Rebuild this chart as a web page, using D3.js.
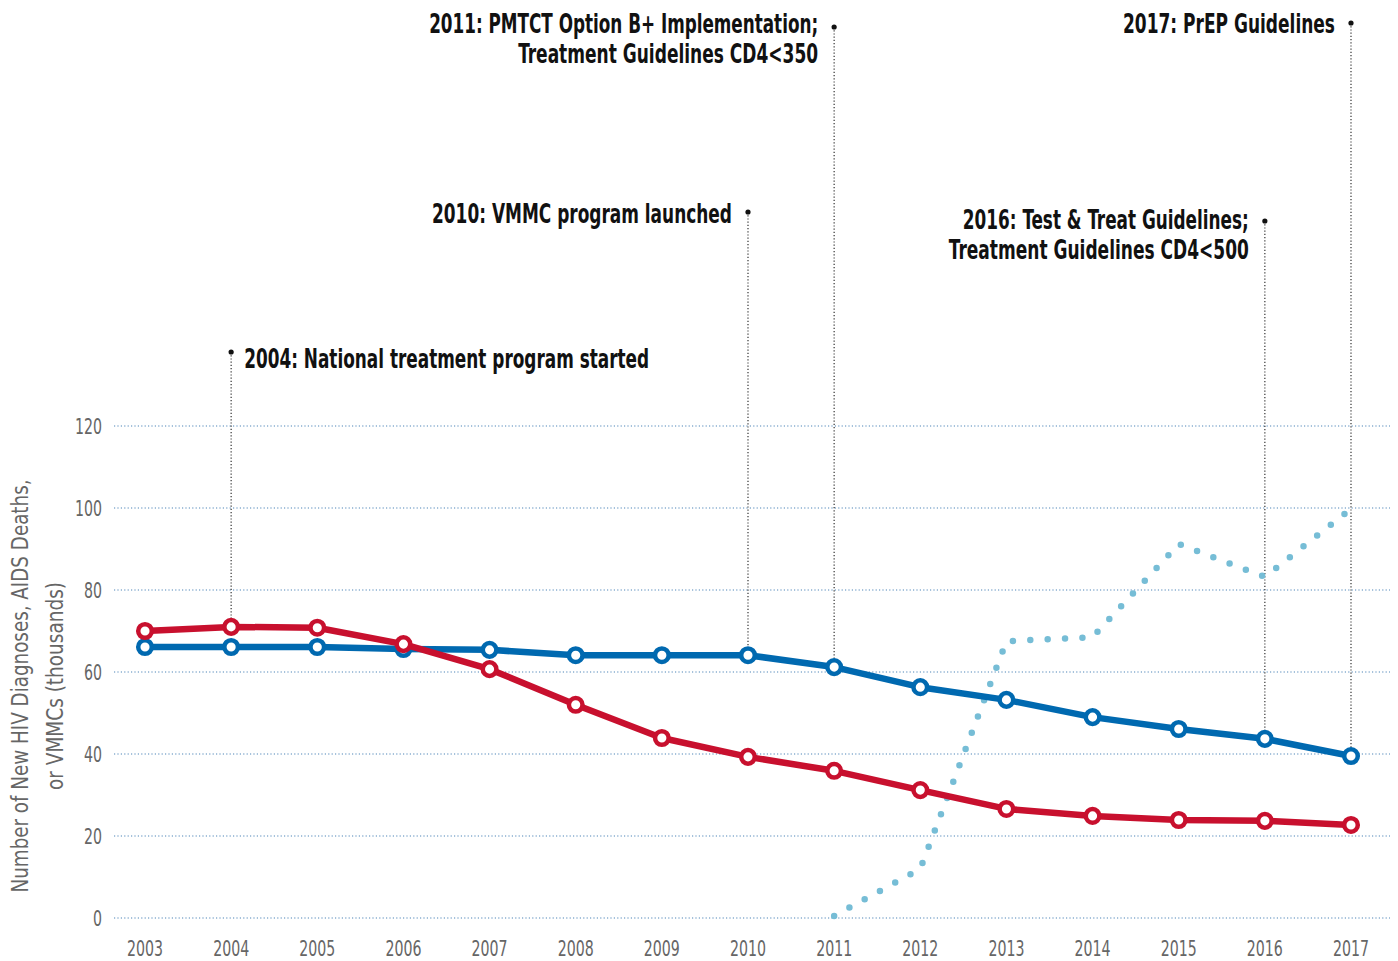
<!DOCTYPE html>
<head>
    <meta charset="UTF-8">
    <title>HIV Diagnoses, AIDS Deaths and VMMCs</title>
</head>
<style>
    body { margin: 0; background: #fff; }
    .grid line { stroke: #4f86b8; stroke-dasharray: 1.2 2.2; stroke-width: 1.2; }
    .tick-label { font-family: "Liberation Sans Narrow", "DejaVu Sans Condensed", sans-serif; font-size: 21px; fill: #666; }
    .note { font-family: "Liberation Sans Narrow", "DejaVu Sans Condensed", sans-serif; font-weight: bold; font-size: 27px; fill: #111; }
    .ytitle { font-family: "Liberation Sans Narrow", "DejaVu Sans Condensed", sans-serif; font-size: 23px; fill: #666; }
</style>
<body>
<script src="https://d3js.org/d3.v7.min.js"></script>
<script>
    // data (thousands)
    var years = [2003, 2004, 2005, 2006, 2007, 2008, 2009, 2010, 2011, 2012, 2013, 2014, 2015, 2016, 2017];
    var newDiagnoses = [66.1, 66.1, 66.1, 65.6, 65.4, 64.1, 64.1, 64.1, 61.2, 56.3, 53.2, 49.0, 46.1, 43.7, 39.5];
    var aidsDeaths = [70.0, 71.0, 70.8, 66.8, 60.7, 52.0, 43.9, 39.3, 35.9, 31.2, 26.6, 24.9, 23.9, 23.7, 22.7];
    var vmmcYears = [2011, 2012, 2013, 2014, 2015, 2016, 2017];
    var vmmcs = [0.5, 12, 67.5, 68.5, 91.2, 83.2, 99.8];
    var yTicks = [0, 20, 40, 60, 80, 100, 120];

    var notes = [
        {year: 2004, lines: ["2004: National treatment program started"], side: "right", dotY: 352, textY: 368, widths: [405]},
        {year: 2010, lines: ["2010: VMMC program launched"], side: "left", dotY: 212, textY: 223, widths: [300]},
        {year: 2011, lines: ["2011: PMTCT Option B+ Implementation;", "Treatment Guidelines CD4<350"], side: "left", dotY: 27, textY: 33, widths: [389, 300]},
        {year: 2016, lines: ["2016: Test & Treat Guidelines;", "Treatment Guidelines CD4<500"], side: "left", dotY: 221, textY: 229, widths: [286, 300]},
        {year: 2017, lines: ["2017: PrEP Guidelines"], side: "left", dotY: 23, textY: 33, widths: [212]}
    ];

    var width = 1398, height = 961;
    var digitW = 9; // condensed digit width

    var x = d3.scaleLinear().domain([2003, 2017]).range([145, 1351]);
    var y = d3.scaleLinear().domain([0, 120]).range([918, 426]);

    var svg = d3.select("body").append("svg")
        .attr("width", width)
        .attr("height", height);

    // gridlines
    svg.append("g")
        .attr("class", "grid")
        .selectAll("line")
        .data(yTicks)
        .enter().append("line")
        .attr("x1", 114).attr("x2", 1390)
        .attr("y1", function(d) { return y(d); })
        .attr("y2", function(d) { return y(d); });

    // y tick labels
    svg.append("g").selectAll("text")
        .data(yTicks)
        .enter().append("text")
        .attr("class", "tick-label")
        .attr("x", 102)
        .attr("y", function(d) { return y(d) + 8; })
        .attr("text-anchor", "end")
        .attr("textLength", function(d) { return String(d).length * digitW; })
        .attr("lengthAdjust", "spacingAndGlyphs")
        .text(function(d) { return d; });

    // x tick labels
    svg.append("g").selectAll("text")
        .data(years)
        .enter().append("text")
        .attr("class", "tick-label")
        .attr("x", function(d) { return x(d); })
        .attr("y", 956)
        .attr("text-anchor", "middle")
        .attr("textLength", function(d) { return String(d).length * digitW; })
        .attr("lengthAdjust", "spacingAndGlyphs")
        .text(function(d) { return d; });

    // y axis title
    var yt = svg.append("text")
        .attr("class", "ytitle")
        .attr("transform", "translate(0,686) rotate(-90)")
        .attr("text-anchor", "middle");
    yt.append("tspan").attr("x", 0).attr("y", 28)
        .attr("textLength", 413).attr("lengthAdjust", "spacingAndGlyphs")
        .text("Number of New HIV Diagnoses, AIDS Deaths,");
    yt.append("tspan").attr("x", 0).attr("y", 63)
        .attr("textLength", 208).attr("lengthAdjust", "spacingAndGlyphs")
        .text("or VMMCs (thousands)");

    // annotations
    function topValue(yr) {
        var i = years.indexOf(yr);
        return Math.max(newDiagnoses[i], aidsDeaths[i]);
    }
    var ann = svg.append("g").selectAll("g")
        .data(notes)
        .enter().append("g");
    ann.append("line")
        .attr("x1", function(d) { return x(d.year); })
        .attr("x2", function(d) { return x(d.year); })
        .attr("y1", function(d) { return d.dotY; })
        .attr("y2", function(d) { return y(topValue(d.year)) - 8; })
        .attr("stroke", "#333")
        .attr("stroke-width", 1.2)
        .attr("stroke-dasharray", "1.2 2");
    ann.append("circle")
        .attr("cx", function(d) { return x(d.year); })
        .attr("cy", function(d) { return d.dotY; })
        .attr("r", 2.6)
        .attr("fill", "#111");
    ann.each(function(d) {
        var g = d3.select(this);
        var tx = d.side === "right" ? x(d.year) + 13 : x(d.year) - 16;
        d.lines.forEach(function(line, i) {
            g.append("text")
                .attr("class", "note")
                .attr("x", d.side === "right" ? tx : tx - d.widths[i])
                .attr("y", d.textY + i * 30)
                .attr("textLength", d.widths[i])
                .attr("lengthAdjust", "spacingAndGlyphs")
                .text(line);
        });
    });

    // VMMC dotted line
    var vline = d3.line()
        .x(function(d, i) { return x(vmmcYears[i]); })
        .y(function(d) { return y(d); });
    svg.append("path")
        .datum(vmmcs)
        .attr("d", vline)
        .attr("fill", "none")
        .attr("stroke", "#76bdd6")
        .attr("stroke-width", 6.5)
        .attr("stroke-linecap", "round")
        .attr("stroke-linejoin", "round")
        .attr("stroke-dasharray", "0 17.4");

    // main series
    var series = [
        {values: newDiagnoses, color: "#0069b0"},
        {values: aidsDeaths, color: "#c8102e"}
    ];
    var line = d3.line()
        .x(function(d, i) { return x(years[i]); })
        .y(function(d) { return y(d); });

    series.forEach(function(s) {
        var g = svg.append("g");
        g.append("path")
            .datum(s.values)
            .attr("d", line)
            .attr("fill", "none")
            .attr("stroke", s.color)
            .attr("stroke-width", 6.5)
            .attr("stroke-linejoin", "round");
        g.selectAll("circle")
            .data(s.values)
            .enter().append("circle")
            .attr("cx", function(d, i) { return x(years[i]); })
            .attr("cy", function(d) { return y(d); })
            .attr("r", 6.8)
            .attr("fill", "#fff")
            .attr("stroke", s.color)
            .attr("stroke-width", 4.5);
    });
</script>
</body>
